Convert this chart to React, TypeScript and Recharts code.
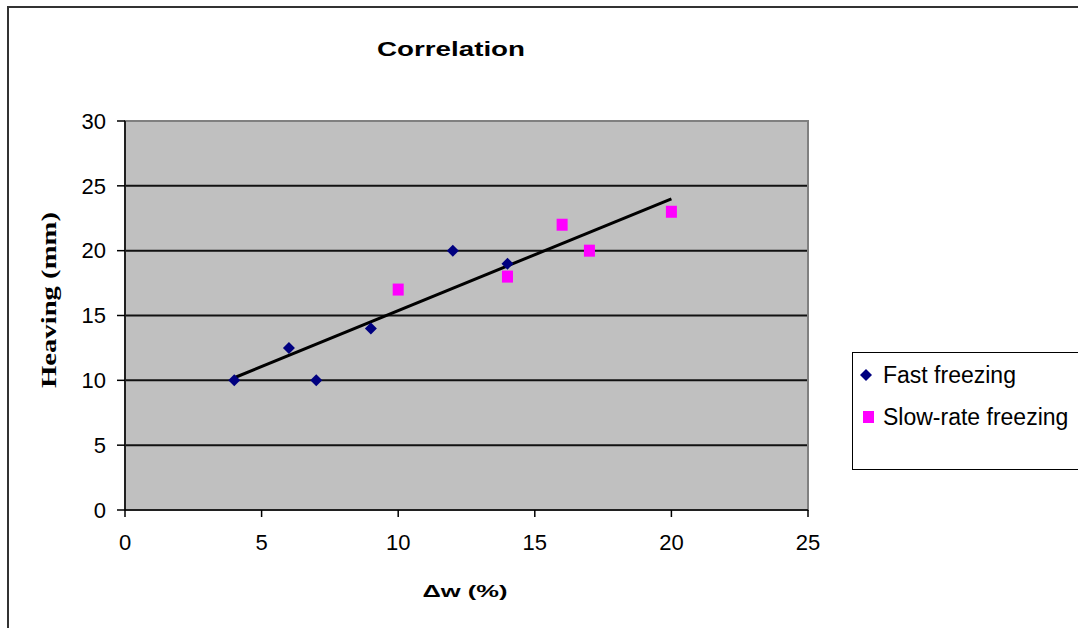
import React from "react";
import {
  ScatterChart,
  Scatter,
  XAxis,
  YAxis,
  CartesianGrid,
  ReferenceArea,
} from "recharts";

const fastFreezing = [
  { x: 4, y: 10 },
  { x: 6, y: 12.5 },
  { x: 7, y: 10 },
  { x: 9, y: 14 },
  { x: 12, y: 20 },
  { x: 14, y: 19 },
];

const slowFreezing = [
  { x: 10, y: 17 },
  { x: 14, y: 18 },
  { x: 16, y: 22 },
  { x: 17, y: 20 },
  { x: 20, y: 23 },
];

const trendLine = [
  { x: 4, y: 10.2 },
  { x: 20, y: 24 },
];

const xTicks = [0, 5, 10, 15, 20, 25];
const yTicks = [0, 5, 10, 15, 20, 25, 30];

const seriesNames = ["Fast freezing", "Slow-rate freezing"];

const FAST_COLOR = "#000080";
const SLOW_COLOR = "#FF00FF";

const Diamond = (props: any) => {
  const { cx, cy } = props;
  if (cx == null || cy == null) return <g />;
  const r = 6;
  return (
    <polygon
      points={`${cx},${cy - r} ${cx + r},${cy} ${cx},${cy + r} ${cx - r},${cy}`}
      fill={FAST_COLOR}
    />
  );
};

const Square = (props: any) => {
  const { cx, cy } = props;
  if (cx == null || cy == null) return <g />;
  return <rect x={cx - 5.5} y={cy - 6} width={11} height={12} fill={SLOW_COLOR} />;
};

const NoShape = () => <g />;

const LegendBox = () => (
  <div
    style={{
      position: "absolute",
      left: 852,
      top: 352,
      width: 240,
      height: 118,
      border: "1.5px solid #000",
      background: "#fff",
      boxSizing: "border-box",
      fontFamily: "'Liberation Sans', Arial, sans-serif",
      fontSize: 23,
      color: "#000",
      paddingTop: 9,
    }}
  >
    <div style={{ display: "flex", alignItems: "center", height: 26, marginBottom: 16 }}>
      <svg width={30} height={20} style={{ display: "block", flexShrink: 0 }}>
        <polygon points="13,4 19,10 13,16 7,10" fill={FAST_COLOR} />
      </svg>
      <span style={{ whiteSpace: "nowrap" }}>{seriesNames[0]}</span>
    </div>
    <div style={{ display: "flex", alignItems: "center", height: 26 }}>
      <svg width={30} height={20} style={{ display: "block", flexShrink: 0 }}>
        <rect x={10} y={4} width={11} height={12} fill={SLOW_COLOR} />
      </svg>
      <span style={{ whiteSpace: "nowrap" }}>{seriesNames[1]}</span>
    </div>
  </div>
);

const tickStyle = {
  fill: "#000",
  fontSize: 22,
  fontFamily: "'Liberation Sans', Arial, sans-serif",
};

export default function App() {
  return (
    <div
      style={{
        position: "absolute",
        left: 0,
        top: 0,
        width: 1078,
        height: 628,
        background: "#fff",
        overflow: "hidden",
      }}
    >
      <div
        style={{
          position: "absolute",
          left: 7,
          top: 6,
          width: 1100,
          height: 660,
          borderLeft: "2px solid #333",
          borderTop: "2px solid #333",
        }}
      />
      <ScatterChart
        width={1078}
        height={628}
        margin={{ top: 121, right: 270, bottom: 78, left: 65 }}
      >
        <CartesianGrid
          vertical={false}
          horizontal={true}
          stroke="#111"
          strokeWidth={2}
          fill="#C0C0C0"
          fillOpacity={1}
        />
        <ReferenceArea
          x1={0}
          x2={25}
          y1={0}
          y2={30}
          fill="none"
          stroke="#808080"
          strokeWidth={2}
        />
        <XAxis
          type="number"
          dataKey="x"
          domain={[0, 25]}
          ticks={xTicks}
          interval={0}
          height={40}
          tickSize={7}
          tickMargin={17}
          axisLine={{ stroke: "#000", strokeWidth: 1.5 }}
          tickLine={{ stroke: "#000", strokeWidth: 1.5 }}
          tick={tickStyle}
          allowDataOverflow
        />
        <YAxis
          type="number"
          dataKey="y"
          domain={[0, 30]}
          ticks={yTicks}
          interval={0}
          width={60}
          tickSize={8}
          tickMargin={11}
          axisLine={{ stroke: "#000", strokeWidth: 1.5 }}
          tickLine={{ stroke: "#000", strokeWidth: 1.5 }}
          tick={tickStyle}
          allowDataOverflow
        />
        <Scatter
          name="Trend"
          data={trendLine}
          line={{ stroke: "#000", strokeWidth: 3 }}
          shape={NoShape}
          legendType="none"
          isAnimationActive={false}
        />
        <Scatter
          name={seriesNames[0]}
          data={fastFreezing}
          shape={Diamond}
          fill={FAST_COLOR}
          isAnimationActive={false}
        />
        <Scatter
          name={seriesNames[1]}
          data={slowFreezing}
          shape={Square}
          fill={SLOW_COLOR}
          isAnimationActive={false}
        />
      </ScatterChart>
      <LegendBox />
      <svg
        width={1078}
        height={628}
        style={{ position: "absolute", left: 0, top: 0, pointerEvents: "none" }}
      >
        <text
          x={451}
          y={56}
          textAnchor="middle"
          fontFamily="'Liberation Sans', Arial, sans-serif"
          fontWeight="bold"
          fontSize={21}
          fill="#000"
          textLength={148}
          lengthAdjust="spacingAndGlyphs"
        >
          Correlation
        </text>
        <text
          x={0}
          y={0}
          transform="translate(56, 300) rotate(-90)"
          textAnchor="middle"
          fontFamily="'Liberation Serif', 'Times New Roman', serif"
          fontWeight="bold"
          fontSize={21}
          fill="#000"
          textLength={176}
          lengthAdjust="spacingAndGlyphs"
        >
          Heaving (mm)
        </text>
        <text
          x={465}
          y={597}
          textAnchor="middle"
          fontFamily="'Liberation Sans', Arial, sans-serif"
          fontWeight="bold"
          fontSize={17}
          fill="#000"
          textLength={85}
          lengthAdjust="spacingAndGlyphs"
        >
          Δw (%)
        </text>
      </svg>
    </div>
  );
}
